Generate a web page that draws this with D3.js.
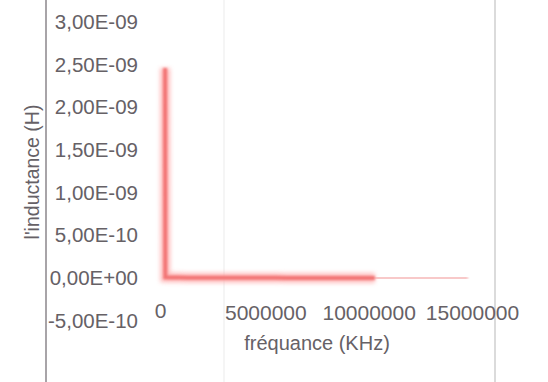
<!DOCTYPE html>
<html><head><meta charset="utf-8">
<script src="https://cdn.jsdelivr.net/npm/d3@7"></script>
<style>body{margin:0;background:#fff}svg{display:block}</style>
</head><body>
<script>
// Data
const freqKHz = [150000, 160000, 400000, 800000, 1200000, 1600000, 2000000, 2500000, 3000000, 3500000, 4000000, 4500000, 5000000, 5500000, 6000000, 6500000, 7000000, 7500000, 8000000, 8500000, 9000000, 9500000, 10000000, 10300000];
const inductanceH = [2.46e-9, 8e-12, 6e-12, 5e-12, 4e-12, 4e-12, 3e-12, 3e-12, 3e-12, 2e-12, 2e-12, 2e-12, 2e-12, 2e-12, 1e-12, 1e-12, 1e-12, 1e-12, 1e-12, 1e-12, 1e-12, 0, 0, 0];
const tailFreqKHz = [10300000, 12000000, 14800000];
const tailInductanceH = [0, -1e-12, -1e-12];
const yTicks = [-5e-10, 0, 5e-10, 1e-9, 1.5e-9, 2e-9, 2.5e-9, 3e-9];
const yTickLabels = ["-5,00E-10", "0,00E+00", "5,00E-10", "1,00E-09", "1,50E-09", "2,00E-09", "2,50E-09", "3,00E-09"];
const xTicks = [0, 5000000, 10000000, 15000000];
const xTickLabels = ["0", "5000000", "10000000", "15000000"];
const xTitle = "fréquance (KHz)";
const yTitle = "l'inductance (H)";

const W = 548, H = 382;
const svg = d3.select("body").append("svg").attr("width", W).attr("height", H);
const font = "'Liberation Sans', Arial, sans-serif";
const txt = "#666166";

const x = d3.scaleLinear().domain([0, 15000000]).range([162, 472]);
const y = d3.scaleLinear().domain([0, 3e-9]).range([278, 22]);

const defs = svg.append("defs");
defs.append("filter").attr("id", "blur").attr("x", "-20%").attr("y", "-20%").attr("width", "140%").attr("height", "140%")
  .append("feGaussianBlur").attr("stdDeviation", 2.2);
defs.append("filter").attr("id", "blur2").attr("x", "-20%").attr("y", "-20%").attr("width", "140%").attr("height", "140%")
  .append("feGaussianBlur").attr("stdDeviation", 0.8);

// frame lines (scan borders)
svg.append("line").attr("x1", 46).attr("x2", 46).attr("y1", 0).attr("y2", H).attr("stroke", "#a8a4a8").attr("stroke-width", 2);
svg.append("line").attr("x1", 495).attr("x2", 495).attr("y1", 0).attr("y2", H).attr("stroke", "#cfcfcf").attr("stroke-width", 1.5);
svg.append("line").attr("x1", 224).attr("x2", 224).attr("y1", 0).attr("y2", H).attr("stroke", "#f2f2f2").attr("stroke-width", 1.5);

// Y axis labels
const yAxis = d3.axisLeft(y).tickValues(yTicks).tickFormat((d, i) => yTickLabels[i]).tickSize(0).tickPadding(0);
const gy = svg.append("g").attr("transform", "translate(138,0)").call(yAxis);
gy.select(".domain").remove();
gy.selectAll("text").attr("font-family", font).attr("font-size", 20.5).attr("fill", txt);

// X axis labels
const xAxis = d3.axisBottom(x).tickValues(xTicks).tickFormat((d, i) => xTickLabels[i]).tickSize(0).tickPadding(0);
const gx = svg.append("g").attr("transform", "translate(0,305)").call(xAxis);
gx.select(".domain").remove();
gx.selectAll("text").attr("font-family", font).attr("font-size", 21).attr("fill", txt);
gx.selectAll(".tick").filter(d => d === 0).select("text").attr("dy", "0.62em").attr("x", -2);

// Titles
svg.append("text").attr("x", 317).attr("y", 350).attr("text-anchor", "middle")
  .attr("font-family", font).attr("font-size", 20).attr("fill", txt).text(xTitle);
svg.append("text").attr("transform", "translate(39,172) rotate(-90)").attr("text-anchor", "middle")
  .attr("font-family", font).attr("font-size", 19.5).attr("fill", txt).text(yTitle);

// Data line
const pts = freqKHz.map((f, i) => [f, inductanceH[i]]);
const tail = tailFreqKHz.map((f, i) => [f, tailInductanceH[i]]);
const line = d3.line().x(d => x(d[0])).y(d => y(d[1]));

svg.append("path").datum(tail).attr("d", line).attr("fill", "none")
  .attr("stroke", "#f8c4c4").attr("stroke-width", 4).attr("filter", "url(#blur2)");
svg.append("path").datum(pts).attr("d", line).attr("fill", "none")
  .attr("stroke", "#ffa8a8").attr("stroke-width", 10).attr("stroke-linejoin", "miter").attr("filter", "url(#blur)").attr("opacity", 0.75);
svg.append("path").datum(pts).attr("d", line).attr("fill", "none")
  .attr("stroke", "#f27474").attr("stroke-width", 4).attr("stroke-linejoin", "miter").attr("filter", "url(#blur2)");
</script>
</body></html>
